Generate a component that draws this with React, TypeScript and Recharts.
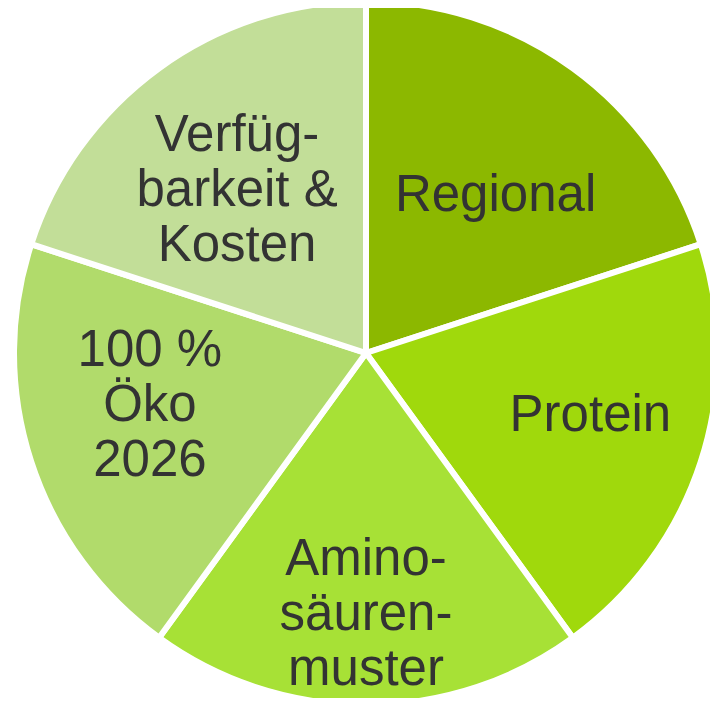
import { PieChart, Pie, Cell } from 'recharts';

const categories = ['Regional', 'Protein', 'Aminosäurenmuster', '100 % Öko 2026', 'Verfügbarkeit & Kosten'];
const shares = [20, 20, 20, 20, 20];
const labelLines = [
  ['Regional'],
  ['Protein'],
  ['Amino-', 'säuren-', 'muster'],
  ['100 %', 'Öko', '2026'],
  ['Verfüg-', 'barkeit &', 'Kosten']
];

const colors = ['#8cb800', '#a0d90c', '#a7e136', '#b1db6b', '#c2de98'];
// distance of each label from the centre, as a share of the radius
const labelDist = [0.585, 0.66, 0.735, 0.63, 0.595];
const labelAngleShift = [-3, 3, 0, -5, 2];

const data = categories.map((name, i) => ({ name, value: shares[i] }));

const RADIAN = Math.PI / 180;

const renderLabel = (props: any) => {
  const { cx, cy, midAngle, outerRadius, index } = props;
  const r = outerRadius * labelDist[index];
  const a = (midAngle + labelAngleShift[index]) * RADIAN;
  const x = cx + r * Math.cos(a);
  const y = cy - r * Math.sin(a);
  const lines = labelLines[index];
  const lh = 55;
  const top = y - ((lines.length - 1) * lh) / 2;
  return (
    <text
      x={x}
      y={top}
      textAnchor='middle'
      dominantBaseline='central'
      fill='#333333'
      fontFamily='Liberation Sans, Arial, sans-serif'
      fontSize={51}
    >
      {lines.map((l, j) => (
        <tspan key={j} x={x} y={top + j * lh} dominantBaseline='central'>
          {l}
        </tspan>
      ))}
    </text>
  );
};

const App = () => {
  return (
    <div style={{ margin: -8, width: 718, height: 706, background: '#fff' }}>
      <PieChart width={718} height={706} margin={{ top: 0, right: 0, bottom: 0, left: 0 }}>
        <Pie
          data={data}
          dataKey='value'
          nameKey='name'
          cx={366}
          cy={353}
          outerRadius={352}
          startAngle={90}
          endAngle={-270}
          stroke='#ffffff'
          strokeWidth={6}
          label={renderLabel}
          labelLine={false}
          isAnimationActive={false}
        >
          {data.map((d, i) => (
            <Cell key={d.name} fill={colors[i]} />
          ))}
        </Pie>
      </PieChart>
    </div>
  );
};

export default App;
